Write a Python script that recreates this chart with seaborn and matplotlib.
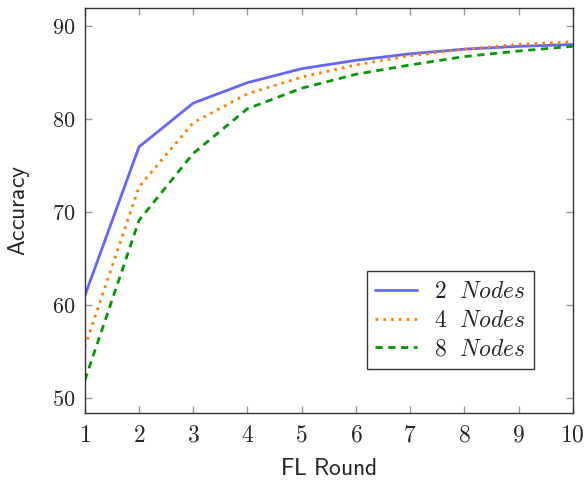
import numpy as np
import pandas as pd
import matplotlib
matplotlib.use('Agg')
import matplotlib.pyplot as plt
import seaborn as sns

# values
rounds = [1, 2, 3, 4, 5, 6, 7, 8, 9, 10]
acc_2 = [61.0, 77.0, 81.7, 83.9, 85.4, 86.3, 87.0, 87.5, 87.8, 88.0]
acc_4 = [55.5, 72.7, 79.6, 82.7, 84.5, 85.8, 86.8, 87.5, 88.0, 88.3]
acc_8 = [51.9, 69.1, 76.3, 81.1, 83.3, 84.8, 85.8, 86.7, 87.3, 87.8]
series_names = [r'$2\ \ Nodes$', r'$4\ \ Nodes$', r'$8\ \ Nodes$']
xticks = [1, 2, 3, 4, 5, 6, 7, 8, 9, 10]
yticks = [50, 60, 70, 80, 90]

sns.set_style('white')
plt.rcParams['mathtext.fontset'] = 'cm'
plt.rcParams['font.family'] = ['DejaVu Sans']

df = pd.DataFrame({
    'round': rounds * 3,
    'acc': acc_2 + acc_4 + acc_8,
    'nodes': [series_names[0]] * 10 + [series_names[1]] * 10 + [series_names[2]] * 10,
})

palette = {series_names[0]: '#6666ff', series_names[1]: '#ff8000', series_names[2]: '#009900'}
dashes = {series_names[0]: '', series_names[1]: (1.0, 1.8), series_names[2]: (2.6, 2.0)}

fig = plt.figure(figsize=(5.85, 4.83), dpi=100)
ax = fig.add_axes([0.145, 0.145, 0.834, 0.838])

sns.lineplot(data=df, x='round', y='acc', hue='nodes', style='nodes',
             palette=palette, dashes=dashes, linewidth=2.0, ax=ax)

ax.set_xlim(1, 10)
ax.set_ylim(48.4, 91.9)
ax.set_xticks(xticks)
ax.set_xticklabels([r'$\mathsf{%d}$' % t for t in xticks], fontsize=17)
ax.set_yticks(yticks)
ax.set_yticklabels(['$%d$' % t for t in yticks], fontsize=16)
ax.tick_params(direction='in', length=5, width=1, color='#999999',
               top=True, right=True, bottom=True, left=True, pad=7)
for s in ax.spines.values():
    s.set_color('#333333')
    s.set_linewidth(1.0)

ax.set_xlabel(r'$\mathsf{FL\ Round}$', fontsize=17, labelpad=7)
ax.set_ylabel(r'$\mathsf{Accuracy}$', fontsize=17, labelpad=14)

leg = ax.legend(loc='lower right', bbox_to_anchor=(0.92, 0.109), borderaxespad=0,
                fontsize=17, frameon=True, fancybox=False, edgecolor='#333333',
                framealpha=1, handlelength=1.8, handletextpad=0.72, borderpad=0.35,
                labelspacing=0.2)
leg.get_frame().set_linewidth(1.0)

fig.savefig('out.png', dpi=100)
